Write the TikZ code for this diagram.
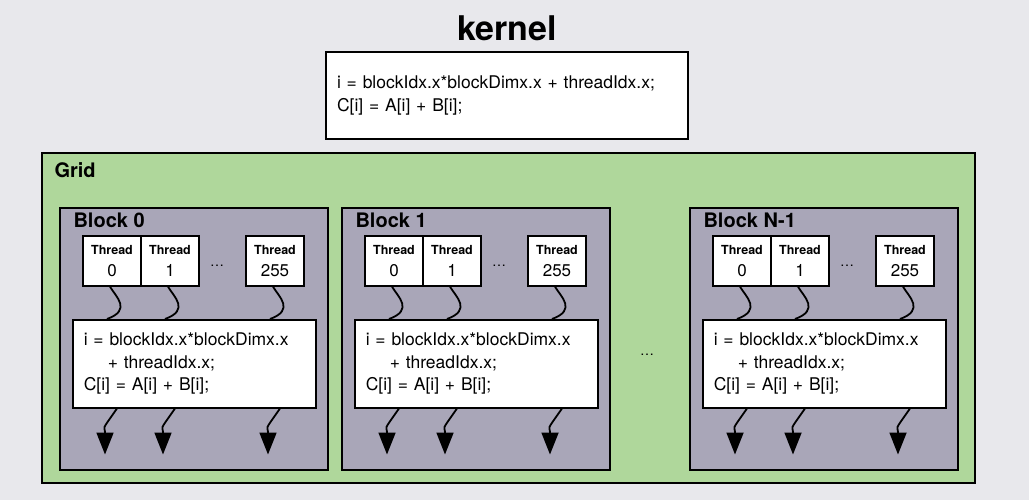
\documentclass[tikz,border=0pt]{standalone}
\usepackage{fontspec}
\setmainfont{TeX Gyre Heros}
\usetikzlibrary{arrows.meta}
\definecolor{bgGray}{HTML}{E8E8EC}
\definecolor{gridGreen}{HTML}{AFD79B}
\definecolor{blockGray}{HTML}{A9A6B8}
\newcommand{\codesize}{\fontsize{17.5}{22.5}\selectfont}

\begin{document}
\begin{tikzpicture}[x=1pt, y=1pt, text depth=0pt]
	\tikzstyle {Grid}   = [shape=rectangle, draw=black, line width=2pt, fill=gridGreen, minimum width=933pt, minimum height=330pt, anchor=north west]
	\tikzstyle {Block}  = [shape=rectangle, draw=black, line width=2pt, fill=blockGray, minimum width=268pt, minimum height=262pt, anchor=north west]
	\tikzstyle {Thread} = [shape=rectangle, draw=black, line width=1.5pt, fill=white, minimum width=58pt, minimum height=50pt, inner sep=0pt, align=center, text depth=]
	\tikzstyle {Code}   = [shape=rectangle, draw=black, line width=1.5pt, fill=white, minimum width=243pt, minimum height=88pt, inner xsep=11pt, text width=221pt, align=left, font=\codesize, anchor=north west, text depth=]
	\tikzstyle {title}  = [font=\bfseries\fontsize{20}{24}\selectfont, anchor=base west]
	\tikzstyle {wave}   = [line width=1.8pt]
	\tikzstyle {flow}   = [line width=1.8pt, out=-125, in=90, looseness=1.6, -{Triangle[length=22pt, width=17pt]}]

	% background
	\fill[bgGray] (0,0) rectangle (1029,-500);

	% kernel
	\node[font=\bfseries\fontsize{34}{40}\selectfont] (kernel) at (507,-28) {kernel};
	\node[shape=rectangle, draw=black, line width=2pt, fill=white, minimum width=362pt, minimum height=87pt, inner xsep=11pt, text width=340pt, align=left, font=\codesize, text depth=] (Kernel-code) at (507,-95.5) {i = blockIdx.x*blockDimx.x + threadIdx.x;\\C[i] = A[i] + B[i];};

	% Grid
	\node[Grid] (Grid) at (41,-152) {};
	\node[title] (Grid-label) at (51,-178) {Grid};

	% Block 0, Block 1, Block N-1
	\foreach \b/\x/\name in {0/59/Block 0, 1/341/Block 1, n/689/Block N-1} {
		\node[Block] (Block-\b) at (\x,-207) {};
		\node[title] (Block-\b-label) at (\x+11,-228) {\name};

		\node[Thread] (Thread-\b-0) at (\x+53,-261) {{\bfseries\fontsize{12.5}{14}\selectfont Thread}\\[9pt]{\fontsize{17}{17}\selectfont 0}};
		\node[Thread] (Thread-\b-1) at (\x+111,-261) {{\bfseries\fontsize{12.5}{14}\selectfont Thread}\\[9pt]{\fontsize{17}{17}\selectfont 1}};
		\node[font=\fontsize{14}{14}\selectfont, anchor=base] (elips-\b) at (\x+158,-266) {\ldots};
		\node[Thread] (Thread-\b-255) at (\x+216,-261) {{\bfseries\fontsize{12.5}{14}\selectfont Thread}\\[9pt]{\fontsize{17}{17}\selectfont 255}};

		\node[Code] (Code-\b) at (\x+13,-319) {i = blockIdx.x*blockDimx.x\\\hspace*{24pt}+ threadIdx.x;\\C[i] = A[i] + B[i];};

		\foreach \t in {0,1,255} {
			\draw[wave] ([xshift=-2pt]Thread-\b-\t.south) .. controls +(6,-10) and +(25,9) .. ([xshift=-5pt]Thread-\b-\t.south |- Code-\b.north);
			\draw[flow] ([xshift=5pt]Thread-\b-\t.south |- Code-\b.south) to ([xshift=-7pt, yshift=-46pt]Thread-\b-\t.south |- Code-\b.south);
		}
	}

	\node[font=\fontsize{14}{14}\selectfont, anchor=base] (elips-blocks) at (647,-355) {\ldots};
\end{tikzpicture}
\end{document}
